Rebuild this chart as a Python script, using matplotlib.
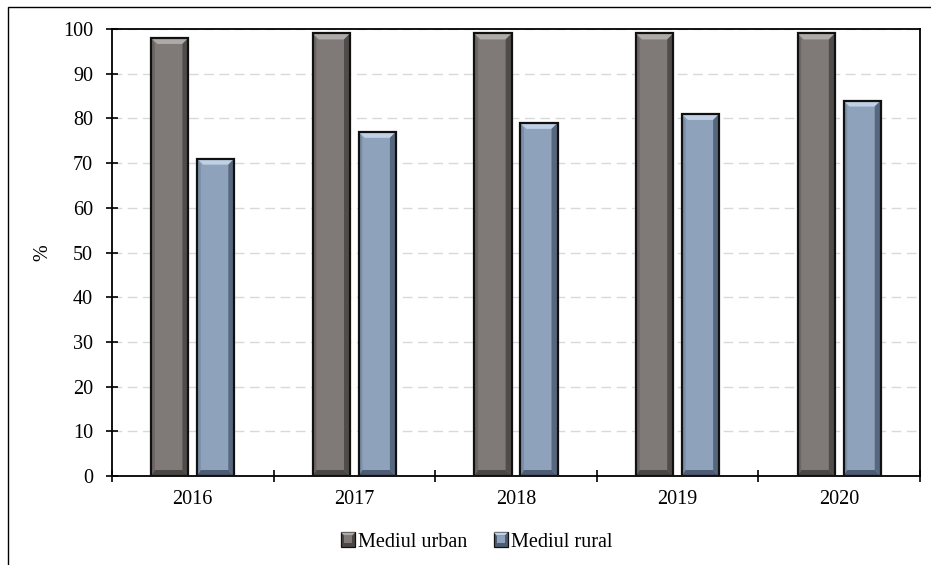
import matplotlib
matplotlib.use("Agg")
import matplotlib.pyplot as plt
from matplotlib.patches import Polygon, Rectangle
from matplotlib.legend_handler import HandlerBase
import numpy as np

plt.rcParams['font.family'] = ['Liberation Serif', 'DejaVu Serif']

years = ['2016', '2017', '2018', '2019', '2020']
urban = [98, 99, 99, 99, 99]
rural = [71, 77, 79, 81, 84]
series_names = ['Mediul urban', 'Mediul rural']

# main / top bevel / left / right / bottom shades
urban_shades = ['#7f7a77', '#aeaaa8', '#6c6764', '#504c4a', '#4a4644']
rural_shades = ['#8ea2bb', '#c0d1e6', '#7a8ea7', '#56677e', '#4d5c72']

FS = 14.5
W, H = 931, 565
fig = plt.figure(figsize=(W / 100, H / 100), dpi=100)
ax_l, ax_r, ax_t, ax_b = 112, 920, 29, 476
ax = fig.add_axes([ax_l / W, 1 - ax_b / H, (ax_r - ax_l) / W, (ax_b - ax_t) / H])

# outer chart frame
fig.patches.append(Rectangle((8 / W, -0.05), 1.2, 1 - 7 / H + 0.05,
                             transform=fig.transFigure, fill=False,
                             edgecolor='black', linewidth=1.0))

x = np.arange(len(years))
bw = 0.23
off = 0.142
ax.set_xlim(-0.5, len(years) - 0.5)
ax.set_ylim(0, 100)

px_x = (ax_r - ax_l) / len(years)   # pixels per category unit
px_y = (ax_b - ax_t) / 100.0        # pixels per percent
bev = 6.0
dx, dy = bev / px_x, bev / px_y


def bevel(a, bars, shades):
    for b in bars:
        x0, w, h = b.get_x(), b.get_width(), b.get_height()
        x1, y1 = x0 + w, h
        pieces = [
            ([(x0, y1), (x1, y1), (x1 - dx, y1 - dy), (x0 + dx, y1 - dy)], shades[1]),
            ([(x0, 0), (x0 + dx * 0.6, dy), (x0 + dx * 0.6, y1 - dy), (x0, y1)], shades[2]),
            ([(x1, 0), (x1, y1), (x1 - dx, y1 - dy), (x1 - dx, dy)], shades[3]),
            ([(x0, 0), (x1, 0), (x1 - dx, dy), (x0 + dx * 0.6, dy)], shades[4]),
        ]
        for pts, c in pieces:
            a.add_patch(Polygon(pts, closed=True, facecolor=c, edgecolor='none', zorder=3))
        a.add_patch(Rectangle((x0, 0), w, h, fill=False, edgecolor='#111111',
                              linewidth=1.6, zorder=4))


b1 = ax.bar(x - off, urban, bw, color=urban_shades[0], edgecolor='none', zorder=2)
b2 = ax.bar(x + off, rural, bw, color=rural_shades[0], edgecolor='none', zorder=2)
bevel(ax, b1, urban_shades)
bevel(ax, b2, rural_shades)

# grid
ax.set_yticks(np.arange(0, 101, 10))
ax.yaxis.grid(True, color='#d9d9d9', linestyle=(0, (7, 4)), linewidth=1.0, zorder=0)
ax.set_axisbelow(True)

# category boundaries as major ticks, labels at centres
ax.set_xticks(np.arange(-0.5, len(years), 1.0))
ax.set_xticklabels([])
ax.set_xticks(x, minor=True)
ax.set_xticklabels(years, minor=True)
ax.tick_params(axis='x', which='major', direction='inout', length=8.5, width=1.2, color='black')
ax.tick_params(axis='x', which='minor', length=0, pad=10, labelsize=FS)
ax.tick_params(axis='y', direction='inout', length=8.5, width=1.2, pad=9.5, labelsize=FS)

for s in ax.spines.values():
    s.set_color('black')
    s.set_linewidth(1.3)

ax.set_ylabel('%', fontsize=FS)
ax.yaxis.set_label_coords(-0.074, 0.499)


class BevelHandler(HandlerBase):
    def __init__(self, shades):
        super().__init__()
        self.shades = shades

    def create_artists(self, legend, orig_handle, xdescent, ydescent, width, height,
                       fontsize, trans):
        s = min(width, height)
        x0 = -xdescent + (width - s) / 2
        y0 = -ydescent + (height - s) / 2
        m = s * 0.22
        outer = Rectangle((x0, y0), s, s, facecolor=self.shades[4],
                          edgecolor='#111111', linewidth=0.9, transform=trans)
        inner = Rectangle((x0 + m, y0 + m), s - 2 * m, s - 2 * m,
                          facecolor=self.shades[0], edgecolor='none', transform=trans)
        top = Polygon([(x0, y0 + s), (x0 + s, y0 + s), (x0 + s - m, y0 + s - m),
                       (x0 + m, y0 + s - m)], closed=True,
                      facecolor=self.shades[1], edgecolor='none', transform=trans)
        return [outer, inner, top]


h1 = Rectangle((0, 0), 1, 1)
h2 = Rectangle((0, 0), 1, 1)
fig.legend([h1, h2], series_names, loc='center', bbox_to_anchor=(0.512, 1 - 542 / H),
           ncol=2, frameon=False, fontsize=FS, handlelength=0.7, handleheight=0.7,
           handletextpad=0.15, columnspacing=1.3,
           handler_map={h1: BevelHandler(urban_shades), h2: BevelHandler(rural_shades)})

fig.savefig('out.png', dpi=100)
